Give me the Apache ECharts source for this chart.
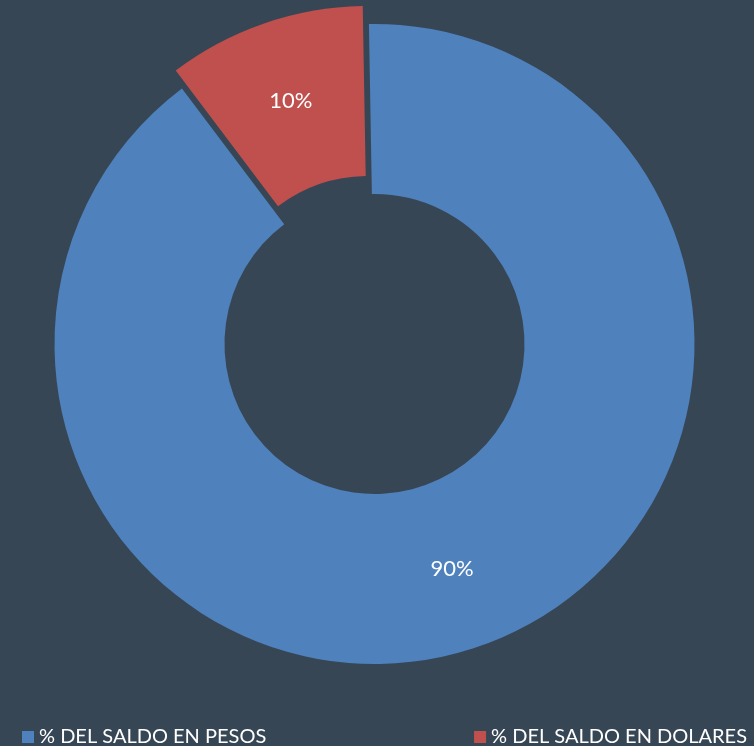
<!DOCTYPE html>
<html>
<head>
<meta charset="utf-8">
<script src="https://cdn.jsdelivr.net/npm/echarts@6/dist/echarts.min.js"></script>
<style>
  html, body { margin: 0; padding: 0; background: #374655; }
  #chart { width: 754px; height: 746px; }
</style>
</head>
<body>
<div id="chart"></div>
<script>
// datos del grafico
var categorias = ['% DEL SALDO EN PESOS', '% DEL SALDO EN DOLARES'];
var valores = [90, 10];
var colores = ['#4f81bd', '#c0504d'];

var myChart = echarts.init(document.getElementById('chart'));

var datos = categorias.map(function (c, i) {
	return {
		name: c,
		value: valores[i],
		selected: i == 1,
		itemStyle: { color: colores[i] }
	};
});

var fuente = 'Lato, "Open Sans", sans-serif';

myChart.setOption({
	backgroundColor: '#374655',
	animation: false,
	legend: [
		{
			data: [categorias[0]],
			left: 17,
			top: 722,
			icon: 'rect',
			itemWidth: 12,
			itemHeight: 12,
			itemGap: 6,
			textStyle: { color: '#ffffff', fontSize: 20, fontFamily: fuente }
		},
		{
			data: [categorias[1]],
			right: 2,
			top: 722,
			icon: 'rect',
			itemWidth: 12,
			itemHeight: 12,
			textStyle: { color: '#ffffff', fontSize: 20, fontFamily: fuente }
		}
	],
	series: [
		{
			type: 'pie',
			center: [374.5, 344],
			radius: [150, 320],
			startAngle: 91,
			clockwise: true,
			selectedMode: 'single',
			selectedOffset: 19,
			label: {
				show: true,
				position: 'inside',
				formatter: '{c}%',
				color: '#ffffff',
				fontSize: 22,
				fontFamily: fuente
			},
			labelLine: { show: false },
			emphasis: { disabled: true },
			data: datos
		}
	]
});
</script>
</body>
</html>
